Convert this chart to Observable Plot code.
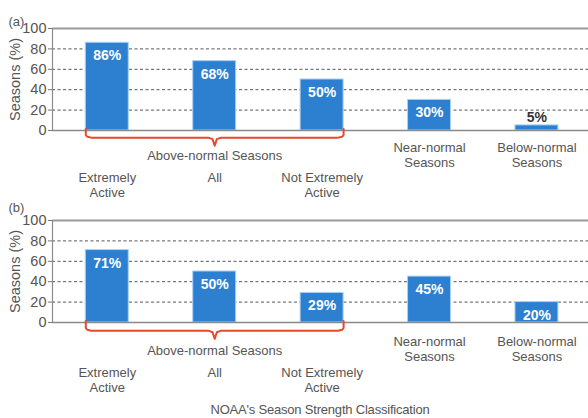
<!DOCTYPE html>
<html><head><meta charset="utf-8">
<script src="https://cdn.jsdelivr.net/npm/d3@7"></script>
<script src="https://cdn.jsdelivr.net/npm/@observablehq/plot@0.6"></script>
<style>
body{margin:0;background:#fff;width:588px;font-family:"Liberation Sans",Arial,sans-serif;}
#chart svg{display:block;}
.cap{font-size:13px;color:#555;text-align:center;padding-left:52px;height:20px;line-height:20px;margin-top:2px;letter-spacing:-0.2px;}
</style></head><body><div id="chart"></div><div class="cap" id="cap"></div><script>
const categories = ["Extremely\nActive", "All", "Not Extremely\nActive", "Near-normal\nSeasons", "Below-normal\nSeasons"];
const groupSize = 3; // first three belong to the bracketed group
const valuesA = [86, 68, 50, 30, 5];
const valuesB = [71, 50, 29, 45, 20];
const yTicks = [0, 20, 40, 60, 80, 100];
const gridTicks = [20, 40, 60, 80];
const groupLabel = "Above-normal Seasons";
const yLabel = "Seasons (%)";
const panelTags = ["(a)", "(b)"];
const xTitle = "NOAA's Season Strength Classification";

const blue = "#2d7fd0";
const red = "#e6492d";
const textGray = "#555";
const xDomain = [-0.51, 4.48];
const hw = 0.2;

function panel(values, tag, o) {
  const data = categories.map((c, i) => ({i, label: c, v: values[i], grouped: i < groupSize}));
  const x0 = 0 - hw, x1 = (groupSize - 1) + hw, xc = (x0 + x1) / 2;
  const b = o.brace;
  const brace = [
    [x0, -1.5], [x0, b - 2.5], [x0 + 0.015, b - 0.8], [x0 + 0.05, b],
    [xc - 0.06, b], [xc - 0.02, b + 1.5], [xc, b + o.tip],
    [xc + 0.02, b + 1.5], [xc + 0.06, b],
    [x1 - 0.05, b], [x1 - 0.015, b - 0.8], [x1, b - 2.5], [x1, -1.5]
  ].map(([x, y]) => ({x, y: -y}));
  return Plot.plot({
    width: 588, height: o.height,
    marginLeft: 52, marginRight: 0, marginTop: o.top, marginBottom: o.height - o.top - 102,
    x: {domain: xDomain, axis: null},
    y: {domain: [0, 100], axis: null},
    style: {fontFamily: "'Liberation Sans', Arial, sans-serif", fontSize: "13px", color: textGray, background: "#fff", overflow: "visible"},
    marks: [
      Plot.ruleY(gridTicks, {stroke: "#555", strokeDasharray: "3,2.5", strokeWidth: 1}),
      Plot.ruleY([100], {stroke: "#9a9a9a", strokeWidth: 2}),
      Plot.ruleX([xDomain[0]], {y1: 0, y2: 100, stroke: "#8a8a8a", strokeWidth: 1.2}),
      Plot.axisY({ticks: yTicks, tickSize: 4, tickPadding: 2, fontSize: 14.5, label: yLabel, labelAnchor: "center", labelOffset: 43, labelArrow: "none", stroke: "#777"}),
      Plot.rectY(data, {x1: d => d.i - hw, x2: d => d.i + hw, y: "v", fill: blue, stroke: "#a9d1f5", strokeWidth: 1}),
      Plot.ruleY([0], {stroke: "#8a8a8a", strokeWidth: 1.5}),
      Plot.text(data.filter(d => d.v >= 10), {x: "i", y: "v", text: d => d.v + "%", dy: 13, fill: "white", fontWeight: "bold", fontSize: 14}),
      Plot.text(data.filter(d => d.v < 10), {x: "i", y: "v", text: d => d.v + "%", dy: -8, fill: "#333", fontWeight: "bold", fontSize: 14}),
      Plot.line(brace, {x: "x", y: "y", stroke: red, strokeWidth: 2}),
      Plot.text([groupLabel], {x: [1], y: [0], dy: o.groupDy, fill: textGray, fontSize: 13}),
      Plot.text(data, {x: "i", y: () => 0, text: "label", lineAnchor: "top", fill: textGray, fontSize: 13, lineHeight: 1.15, filter: d => d.grouped, dy: o.catDy}),
      Plot.text(data, {x: "i", y: () => 0, text: "label", lineAnchor: "top", fill: textGray, fontSize: 13, lineHeight: 1.2, filter: d => !d.grouped, dy: o.nearDy}),
      Plot.text([tag], {frameAnchor: "top-left", textAnchor: "start", dx: -44, dy: o.tagDy, fill: textGray, fontSize: 13})
    ]
  });
}

const chart = document.getElementById("chart");
chart.append(panel(valuesA, panelTags[0], {height: 200, top: 28, brace: 7, tip: 8, groupDy: 25, catDy: 41, nearDy: 10, tagDy: -12}));
chart.append(panel(valuesB, panelTags[1], {height: 198, top: 20, brace: 8, tip: 8, groupDy: 28, catDy: 44, nearDy: 12, tagDy: -18}));
document.getElementById("cap").textContent = xTitle;
</script></body></html>
